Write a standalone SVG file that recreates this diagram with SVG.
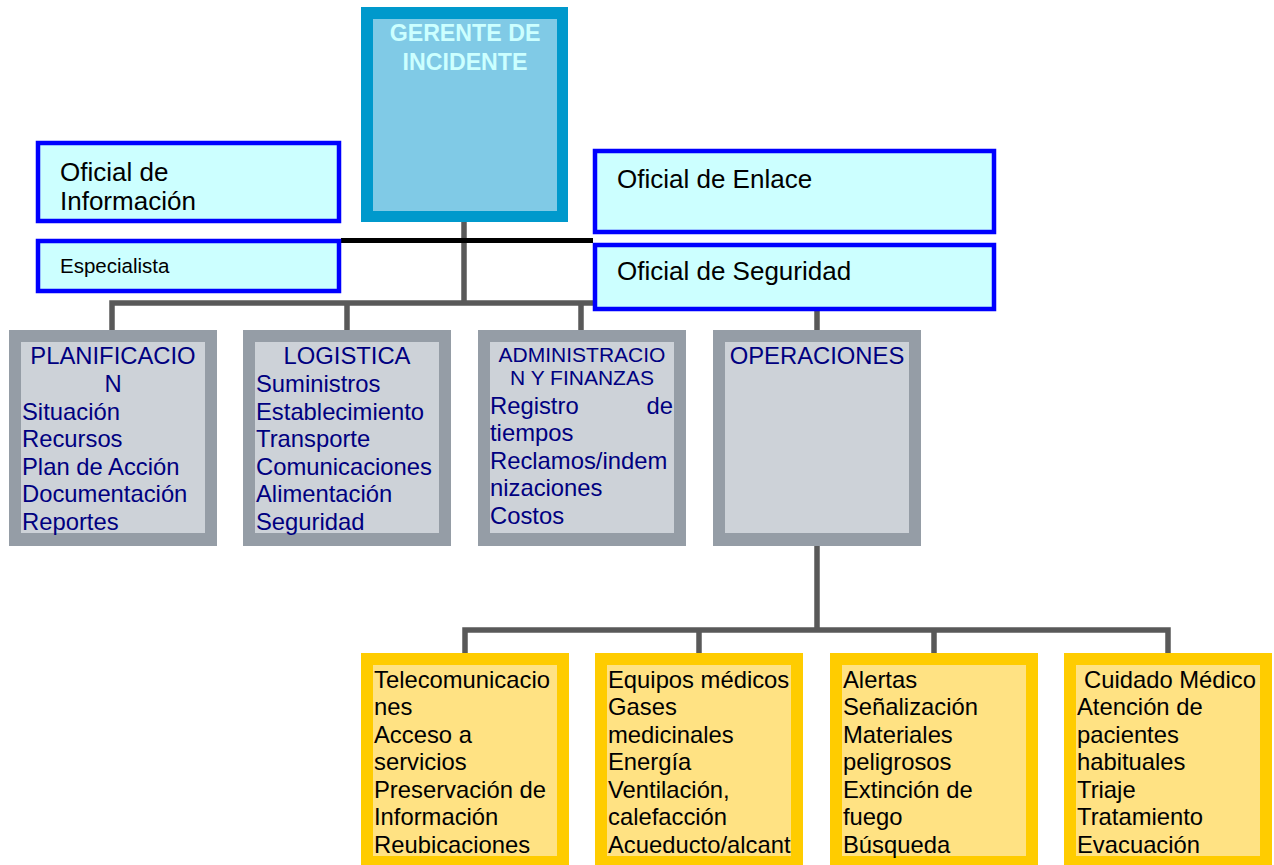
<svg xmlns="http://www.w3.org/2000/svg" width="1274" height="865" viewBox="0 0 1274 865">
<style>
text{font-family:"Liberation Sans",Arial,sans-serif}
.cy{fill:#CCFFFF;stroke:#0000FF;stroke-width:4.5}
.t26{font-size:26px;fill:#000}
.gO{fill:#959DA6}.gI{fill:#CDD2D8}
.yO{fill:#FFCC00}.yI{fill:#FFE283}
.dt{font-size:23.8px;fill:#000080}
.yt{font-size:23.8px;fill:#000}
.con{stroke:#595959;stroke-width:5.5;fill:none}
</style>
<g id="connectors">
<path class="con" d="M464 222V303M112 330V303H817V330M347 303V330M581 303V330"/>
<path class="con" d="M817 546V630M465 653V630H1168V653M699 630V653M934 630V653"/>
<path d="M341 240.5H593" stroke="#000" stroke-width="5"/>
</g>
<g id="gerente">
<rect x="361" y="7" width="207" height="215" fill="#0099CC"/>
<rect x="373" y="19" width="184" height="192" fill="#80CAE6"/>
<text x="465" y="41" text-anchor="middle" font-size="23.2" font-weight="bold" fill="#CCFFFF">GERENTE DE</text>
<text x="465" y="70" text-anchor="middle" font-size="23.2" font-weight="bold" fill="#CCFFFF">INCIDENTE</text>
</g>
<g id="oficial-informacion">
<rect class="cy" x="38" y="143" width="301" height="78"/>
<text class="t26" x="60" y="181">Oficial de</text>
<text class="t26" x="60" y="210">Información</text>
</g>
<g id="especialista">
<rect class="cy" x="38" y="241" width="301" height="50"/>
<text x="60" y="273" font-size="20.5" fill="#000">Especialista</text>
</g>
<g id="oficial-enlace">
<rect class="cy" x="595" y="151" width="399" height="81"/>
<text class="t26" x="617" y="188">Oficial de Enlace</text>
</g>
<g id="oficial-seguridad">
<rect class="cy" x="595" y="245" width="399" height="64"/>
<text class="t26" x="617" y="280">Oficial de Seguridad</text>
</g>
<g id="planificacion">
<rect class="gO" x="9" y="330" width="208" height="216"/>
<rect class="gI" x="21" y="342" width="184" height="191"/>
<text class="dt" x="113" y="364" text-anchor="middle">PLANIFICACIO</text>
<text class="dt" x="113" y="392" text-anchor="middle">N</text>
<text class="dt" x="22" y="420">Situación</text>
<text class="dt" x="22" y="447">Recursos</text>
<text class="dt" x="22" y="475">Plan de Acción</text>
<text class="dt" x="22" y="502">Documentación</text>
<text class="dt" x="22" y="530">Reportes</text>
</g>
<g id="logistica">
<rect class="gO" x="243" y="330" width="208" height="216"/>
<rect class="gI" x="255" y="342" width="184" height="191"/>
<text class="dt" x="347" y="364" text-anchor="middle">LOGISTICA</text>
<text class="dt" x="256" y="392">Suministros</text>
<text class="dt" x="256" y="420">Establecimiento</text>
<text class="dt" x="256" y="447">Transporte</text>
<text class="dt" x="256" y="475">Comunicaciones</text>
<text class="dt" x="256" y="502">Alimentación</text>
<text class="dt" x="256" y="530">Seguridad</text>
</g>
<g id="administracion">
<rect class="gO" x="478" y="330" width="208" height="216"/>
<rect class="gI" x="490" y="342" width="184" height="191"/>
<text x="582" y="362" text-anchor="middle" font-size="21" fill="#000080">ADMINISTRACIO</text>
<text x="582" y="385" text-anchor="middle" font-size="21" fill="#000080">N Y FINANZAS</text>
<text class="dt" x="490" y="414">Registro</text>
<text class="dt" x="673" y="414" text-anchor="end">de</text>
<text class="dt" x="490" y="441">tiempos</text>
<text class="dt" x="490" y="469">Reclamos/indem</text>
<text class="dt" x="490" y="496">nizaciones</text>
<text class="dt" x="490" y="524">Costos</text>
</g>
<g id="operaciones">
<rect class="gO" x="713" y="330" width="208" height="216"/>
<rect class="gI" x="725" y="342" width="184" height="191"/>
<text class="dt" x="817" y="364" text-anchor="middle">OPERACIONES</text>
</g>
<g id="telecomunicaciones">
<rect class="yO" x="361" y="653" width="208" height="220"/>
<rect class="yI" x="373" y="665" width="184" height="191"/>
<text class="yt" x="374" y="688">Telecomunicacio</text>
<text class="yt" x="374" y="715">nes</text>
<text class="yt" x="374" y="743">Acceso a</text>
<text class="yt" x="374" y="770">servicios</text>
<text class="yt" x="374" y="798">Preservación de</text>
<text class="yt" x="374" y="825">Información</text>
<text class="yt" x="374" y="853">Reubicaciones</text>
</g>
<g id="equipos">
<rect class="yO" x="595" y="653" width="208" height="220"/>
<rect class="yI" x="607" y="665" width="184" height="191"/>
<text class="yt" x="608" y="688">Equipos médicos</text>
<text class="yt" x="608" y="715">Gases</text>
<text class="yt" x="608" y="743">medicinales</text>
<text class="yt" x="608" y="770">Energía</text>
<text class="yt" x="608" y="798">Ventilación,</text>
<text class="yt" x="608" y="825">calefacción</text>
<text class="yt" x="608" y="853">Acueducto/alcant</text>
</g>
<g id="alertas">
<rect class="yO" x="830" y="653" width="208" height="220"/>
<rect class="yI" x="842" y="665" width="184" height="191"/>
<text class="yt" x="843" y="688">Alertas</text>
<text class="yt" x="843" y="715">Señalización</text>
<text class="yt" x="843" y="743">Materiales</text>
<text class="yt" x="843" y="770">peligrosos</text>
<text class="yt" x="843" y="798">Extinción de</text>
<text class="yt" x="843" y="825">fuego</text>
<text class="yt" x="843" y="853">Búsqueda</text>
</g>
<g id="cuidado-medico">
<rect class="yO" x="1064" y="653" width="208" height="220"/>
<rect class="yI" x="1076" y="665" width="184" height="191"/>
<text class="yt" x="1084" y="688">Cuidado Médico</text>
<text class="yt" x="1077" y="715">Atención de</text>
<text class="yt" x="1077" y="743">pacientes</text>
<text class="yt" x="1077" y="770">habituales</text>
<text class="yt" x="1077" y="798">Triaje</text>
<text class="yt" x="1077" y="825">Tratamiento</text>
<text class="yt" x="1077" y="853">Evacuación</text>
</g>
</svg>
